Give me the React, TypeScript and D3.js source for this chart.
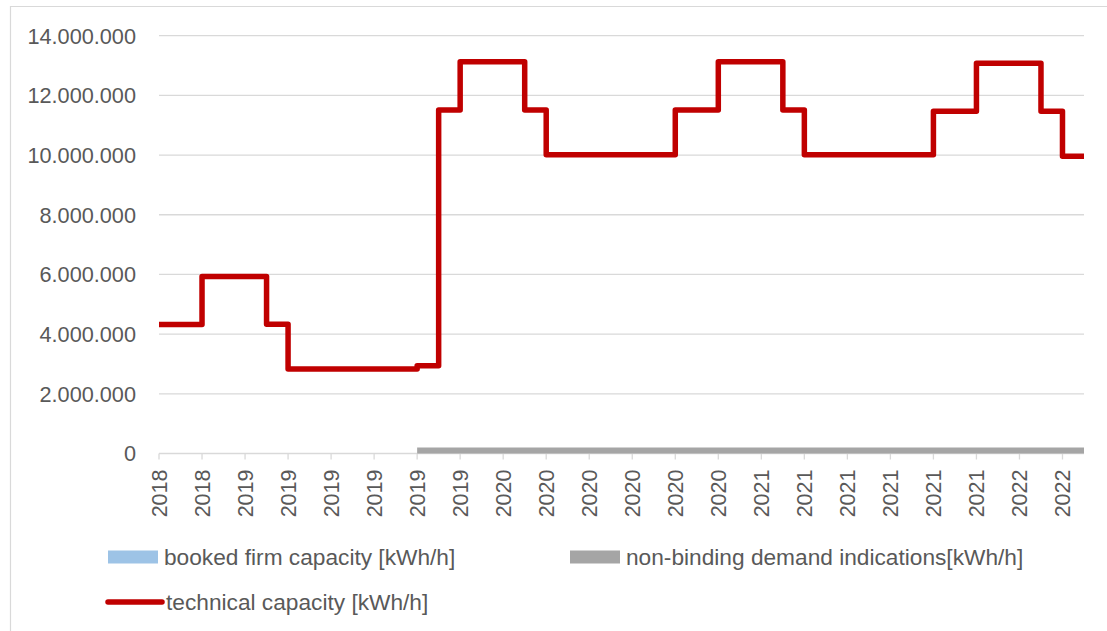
import * as d3 from 'd3';

// monthly values, first month = Oct 2018
const START_YEAR = 2018;
const START_MONTH = 9; // 0-based, October
const technical = [
  4320000, 4320000, 5930000, 5930000, 5930000, 4330000,
  2830000, 2830000, 2830000, 2830000, 2830000, 2830000,
  2940000, 11510000, 13130000, 13130000, 13130000, 11510000,
  10010000, 10010000, 10010000, 10010000, 10010000, 10010000,
  11510000, 11510000, 13130000, 13130000, 13130000, 11510000,
  10010000, 10010000, 10010000, 10010000, 10010000, 10010000,
  11470000, 11470000, 13080000, 13080000, 13080000, 11470000,
  9960000,
];
const nonBinding = [
  0, 0, 0, 0, 0, 0, 0, 0, 0, 0, 0, 0,
  200000, 200000, 200000, 200000, 200000, 200000, 200000, 200000, 200000, 200000,
  200000, 200000, 200000, 200000, 200000, 200000, 200000, 200000, 200000, 200000,
  200000, 200000, 200000, 200000, 200000, 200000, 200000, 200000, 200000, 200000,
  200000,
];
const yTicks = [0, 2000000, 4000000, 6000000, 8000000, 10000000, 12000000, 14000000];
const legendItems = [
  { label: 'booked firm capacity [kWh/h]', color: '#9DC3E6', kind: 'rect' },
  { label: 'non-binding demand indications[kWh/h]', color: '#A5A5A5', kind: 'rect' },
  { label: 'technical capacity [kWh/h]', color: '#C00000', kind: 'line' },
];

const W = 1107;
const H = 631;
const LEFT = 159;
const RIGHT = 1084;
const TOP = 35.7;
const BOTTOM = 453.5;
const FONT = '"Liberation Sans", Arial, sans-serif';
const TEXT = '#595959';
const GRID = '#D9D9D9';

const fmt = (v: number) => (v === 0 ? '0' : d3.format(',')(v).replace(/,/g, '.'));

export default function App() {
  const n = technical.length;
  const x = d3.scaleLinear().domain([0, n]).range([LEFT, RIGHT]);
  const y = d3.scaleLinear().domain([0, 14000000]).range([BOTTOM, TOP]);

  // extend the last value so the step runs to the end of the month
  const techPts = [...technical, technical[n - 1]].map((v, i) => [i, v] as [number, number]);
  const line = d3.line<[number, number]>()
    .x(d => x(d[0]))
    .y(d => y(d[1]))
    .curve(d3.curveStepAfter);

  const nbPts = [...nonBinding, nonBinding[n - 1]].map((v, i) => [i, v] as [number, number]);
  const area = d3.area<[number, number]>()
    .x(d => x(d[0]))
    .y0(y(0))
    .y1(d => y(d[1]))
    .curve(d3.curveStepAfter);

  const xTicks = d3.range(0, n, 2);
  const yearOf = (i: number) => START_YEAR + Math.floor((START_MONTH + i) / 12);

  return (
    <svg width={W} height={H} style={{ position: 'absolute', left: 0, top: 0, background: '#fff' }}>
      <path d={`M10.5,${H} V6.5 H${W}`} fill="none" stroke={GRID} strokeWidth={1.2} />

      {yTicks.map(t => (
        <g key={t}>
          <line x1={LEFT} x2={RIGHT} y1={y(t)} y2={y(t)} stroke={GRID} strokeWidth={1.3} />
          <text x={136} y={y(t)} dy="0.36em" textAnchor="end" fontFamily={FONT} fontSize={21.7} fill={TEXT}>
            {fmt(t)}
          </text>
        </g>
      ))}

      {xTicks.map(i => (
        <g key={i}>
          <line x1={x(i)} x2={x(i)} y1={BOTTOM} y2={BOTTOM + 6} stroke={GRID} strokeWidth={1.3} />
          <text
            transform={`translate(${x(i)},${BOTTOM + 16}) rotate(-90)`}
            dy="0.36em"
            textAnchor="end"
            fontFamily={FONT}
            fontSize={21.5}
            fill={TEXT}
          >
            {yearOf(i)}
          </text>
        </g>
      ))}

      <path d={area(nbPts.filter(p => p[0] >= 12)) ?? ''} fill="#A5A5A5" />
      <path
        d={line(techPts) ?? ''}
        fill="none"
        stroke="#C00000"
        strokeWidth={5.5}
        strokeLinejoin="round"
      />

      {legendItems.map((item, k) => {
        const lx = k === 1 ? 570 : 108;
        const ly = k === 2 ? 602 : 557;
        return (
          <g key={item.label}>
            {item.kind === 'rect' ? (
              <rect x={lx} y={ly - 6.5} width={50} height={13} fill={item.color} />
            ) : (
              <line x1={lx} x2={lx + 54} y1={ly} y2={ly} stroke={item.color} strokeWidth={5.5} strokeLinecap="round" />
            )}
            <text
              x={lx + (item.kind === 'rect' ? 56 : 58)}
              y={ly}
              dy="0.36em"
              fontFamily={FONT}
              fontSize={22.7}
              fill={TEXT}
            >
              {item.label}
            </text>
          </g>
        );
      })}
    </svg>
  );
}
